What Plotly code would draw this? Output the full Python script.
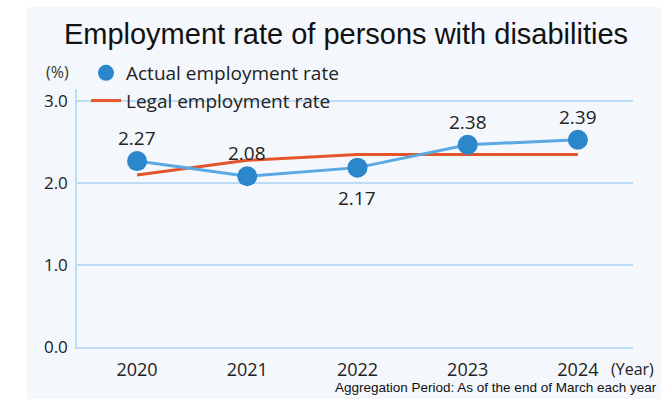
import plotly.graph_objects as go

years = [2020, 2021, 2022, 2023, 2024]
actual_rate = [2.27, 2.085, 2.19, 2.47, 2.53]
actual_labels = ["2.27", "2.08", "2.17", "2.38", "2.39"]
label_above = [True, True, False, True, True]
legal_rate = [2.10, 2.28, 2.35, 2.35, 2.35]
y_ticks = [0.0, 1.0, 2.0, 3.0]
y_tick_labels = ["0.0", "1.0", "2.0", "3.0"]

BLUE_M = "#2b86cb"
BLUE_L = "#5aa8e4"
ORANGE = "#e5552a"
GRID = "#bcdcf3"
PANEL = "#f4f7fc"
TEXT = "#222222"

W, H = 661, 399
L, R, T, B = 77, 28, 89, 52
pw, ph = W - L - R, H - T - B


def px_x(x):
    return (x - L) / pw


def px_y(y):
    return (H - B - y) / ph


fig = go.Figure()

fig.add_trace(go.Scatter(
    x=years, y=legal_rate, mode="lines",
    line=dict(color=ORANGE, width=3), showlegend=False, hoverinfo="skip"))

fig.add_trace(go.Scatter(
    x=years, y=actual_rate, mode="lines+markers",
    line=dict(color=BLUE_L, width=3),
    marker=dict(color=BLUE_M, size=20),
    showlegend=False))

# legend-only entries
fig.add_trace(go.Scatter(
    x=[None], y=[None], mode="markers", name="Actual employment rate",
    marker=dict(color=BLUE_M, size=18), legendgroup="a"))
fig.add_trace(go.Scatter(
    x=[None], y=[None], mode="lines", name="Legal employment rate",
    line=dict(color=ORANGE, width=3), legendgroup="b"))

label_annotations = [
    dict(x=x, y=y, text=t, xref="x", yref="y", showarrow=False,
         xanchor="center", yanchor="middle", yshift=23 if up else -30,
         font=dict(family="Open Sans", size=19, color=TEXT))
    for x, y, t, up in zip(years, actual_rate, actual_labels, label_above)
]

fig.update_layout(
    width=W, height=H,
    margin=dict(l=L, r=R, t=T, b=B, pad=0),
    paper_bgcolor="white",
    plot_bgcolor=PANEL,
    title=dict(text="Employment rate of persons with disabilities",
               font=dict(family="Liberation Sans", size=29, color="#111111"),
               x=346 / W, xanchor="center", xref="container",
               y=1 - 34 / H, yanchor="middle", yref="container"),
    showlegend=True,
    legend=dict(x=px_x(86), xanchor="left", y=px_y(54), yanchor="top",
                bgcolor="rgba(0,0,0,0)", borderwidth=0,
                font=dict(family="Open Sans", size=19, color=TEXT),
                tracegroupgap=0, itemsizing="trace"),
    xaxis=dict(range=[2019.455, 2024.5], tickvals=years,
               ticktext=[str(y) for y in years],
               showgrid=False, zeroline=False,
               showline=True, linecolor=GRID, linewidth=1.5,
               ticks="", tickfont=dict(family="Open Sans", size=18, color=TEXT),
               ticklabelstandoff=6),
    yaxis=dict(range=[0, 3.15], tickvals=y_ticks, ticktext=y_tick_labels,
               showgrid=True, gridcolor=GRID, gridwidth=1.5,
               zeroline=False, showline=True, linecolor=GRID, linewidth=1.5,
               ticks="", tickfont=dict(family="Open Sans", size=17, color=TEXT),
               ticklabelstandoff=4),
    shapes=[dict(type="rect", xref="paper", yref="paper",
                 x0=px_x(27), x1=px_x(W + 5), y0=px_y(H + 5), y1=px_y(7),
                 fillcolor=PANEL, line=dict(width=0), layer="below")],
    annotations=label_annotations + [
        dict(text="(%)", xref="paper", yref="paper", x=px_x(44), y=px_y(72),
             xanchor="left", yanchor="middle", showarrow=False,
             font=dict(family="Open Sans", size=16, color="#333333")),
        dict(text="(Year)", xref="paper", yref="paper", x=px_x(609), y=px_y(369),
             xanchor="left", yanchor="middle", showarrow=False,
             font=dict(family="Open Sans", size=16, color=TEXT)),
        dict(text="Aggregation Period: As of the end of March each year",
             xref="paper", yref="paper", x=px_x(333), y=px_y(387),
             xanchor="left", yanchor="middle", showarrow=False,
             font=dict(family="Liberation Sans", size=13.5, color="#111111")),
    ],
)

fig.write_html("out.html", config={"displayModeBar": False},
               post_script="document.body.style.margin='0';")
